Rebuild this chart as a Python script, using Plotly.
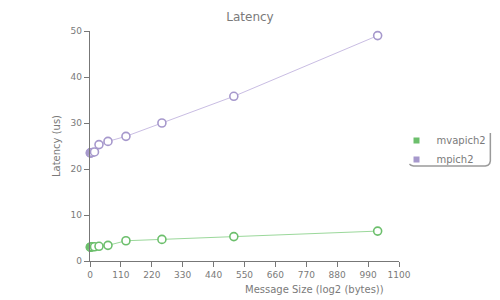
import plotly.graph_objects as go

sizes = [1, 2, 4, 8, 16, 32, 64, 128, 256, 512, 1024]
mvapich2 = [3.0, 3.0, 3.05, 3.1, 3.1, 3.2, 3.4, 4.4, 4.7, 5.3, 6.5]
mpich2 = [23.5, 23.5, 23.5, 23.6, 23.7, 25.3, 26.0, 27.1, 30.0, 35.8, 49.0]
x_ticks = [0, 110, 220, 330, 440, 550, 660, 770, 880, 990, 1100]
y_ticks = [0, 10, 20, 30, 40, 50]

green_line = "#9bd89b"
green_mark = "#6cbf6c"
purple_line = "#c9bde3"
purple_mark = "#a698cc"
text_col = "#7a7a7a"
axis_col = "#777777"

fig = go.Figure()
for name, vals, lc, mc in [("mvapich2", mvapich2, green_line, green_mark),
                           ("mpich2", mpich2, purple_line, purple_mark)]:
    fig.add_trace(go.Scatter(
        x=sizes, y=vals, mode="lines+markers", name=name, showlegend=False,
        line=dict(color=lc, width=1),
        marker=dict(symbol="circle", size=8, color="white",
                    line=dict(color=mc, width=1.6)),
        cliponaxis=False,
    ))
    fig.add_trace(go.Scatter(
        x=[None], y=[None], mode="markers", name=name, showlegend=True,
        marker=dict(symbol="square", size=6, color=mc, line=dict(width=0)),
    ))

W, H = 500, 300
L, R, T, B = 90, 100.5, 31, 39
pw, ph = W - L - R, H - T - B

def px(x):
    return (x - L) / pw

def py(y):
    return (H - B - y) / ph

# legend box shadow (bottom-right edges with rounded corner)
pts = [(491, 133), (491, 161), (490.3, 163.5), (488.5, 165.3), (486, 166),
       (414, 166), (411.5, 165.3), (410, 164)]
path = "M " + " L ".join(f"{px(a):.5f},{py(b):.5f}" for a, b in pts)
shapes = [
    dict(type="path", path=path, xref="paper", yref="paper",
         line=dict(color="#9a9a9a", width=1.5)),
]

fig.update_layout(
    width=W, height=H,
    margin=dict(l=L, r=R, t=T, b=B, autoexpand=False),
    paper_bgcolor="white", plot_bgcolor="white",
    font=dict(family="DejaVu Sans", size=10, color=text_col),
    title=dict(text="Latency", x=(250) / W, xanchor="center", y=1 - 17 / H,
               yanchor="middle", font=dict(size=12, color=text_col)),
    xaxis=dict(range=[0, 1100], tickvals=x_ticks, showgrid=False, zeroline=False,
               showline=True, linecolor=axis_col, linewidth=1.3,
               ticks="outside", ticklen=5, tickcolor=axis_col,
               tickfont=dict(size=9, color=text_col)),
    yaxis=dict(range=[0, 50], tickvals=y_ticks, showgrid=False, zeroline=False,
               showline=True, linecolor=axis_col, linewidth=1.3,
               ticks="outside", ticklen=5, tickcolor=axis_col,
               tickfont=dict(size=9, color=text_col),
               title=dict(text="Latency (us)", standoff=8,
                          font=dict(size=10, color=text_col))),
    legend=dict(x=px(397), y=py(126), xanchor="left", yanchor="top",
                bgcolor="rgba(0,0,0,0)", borderwidth=0,
                font=dict(size=10, color=text_col), itemsizing="trace",
                tracegroupgap=0, itemwidth=30),
    shapes=shapes,
    annotations=[dict(text="Message Size (log2 (bytes))", xref="paper", yref="paper",
                      x=px(314.5), y=py(289), xanchor="center", yanchor="middle",
                      showarrow=False, font=dict(size=10, color=text_col))],
)

fig.write_html("out.html")
